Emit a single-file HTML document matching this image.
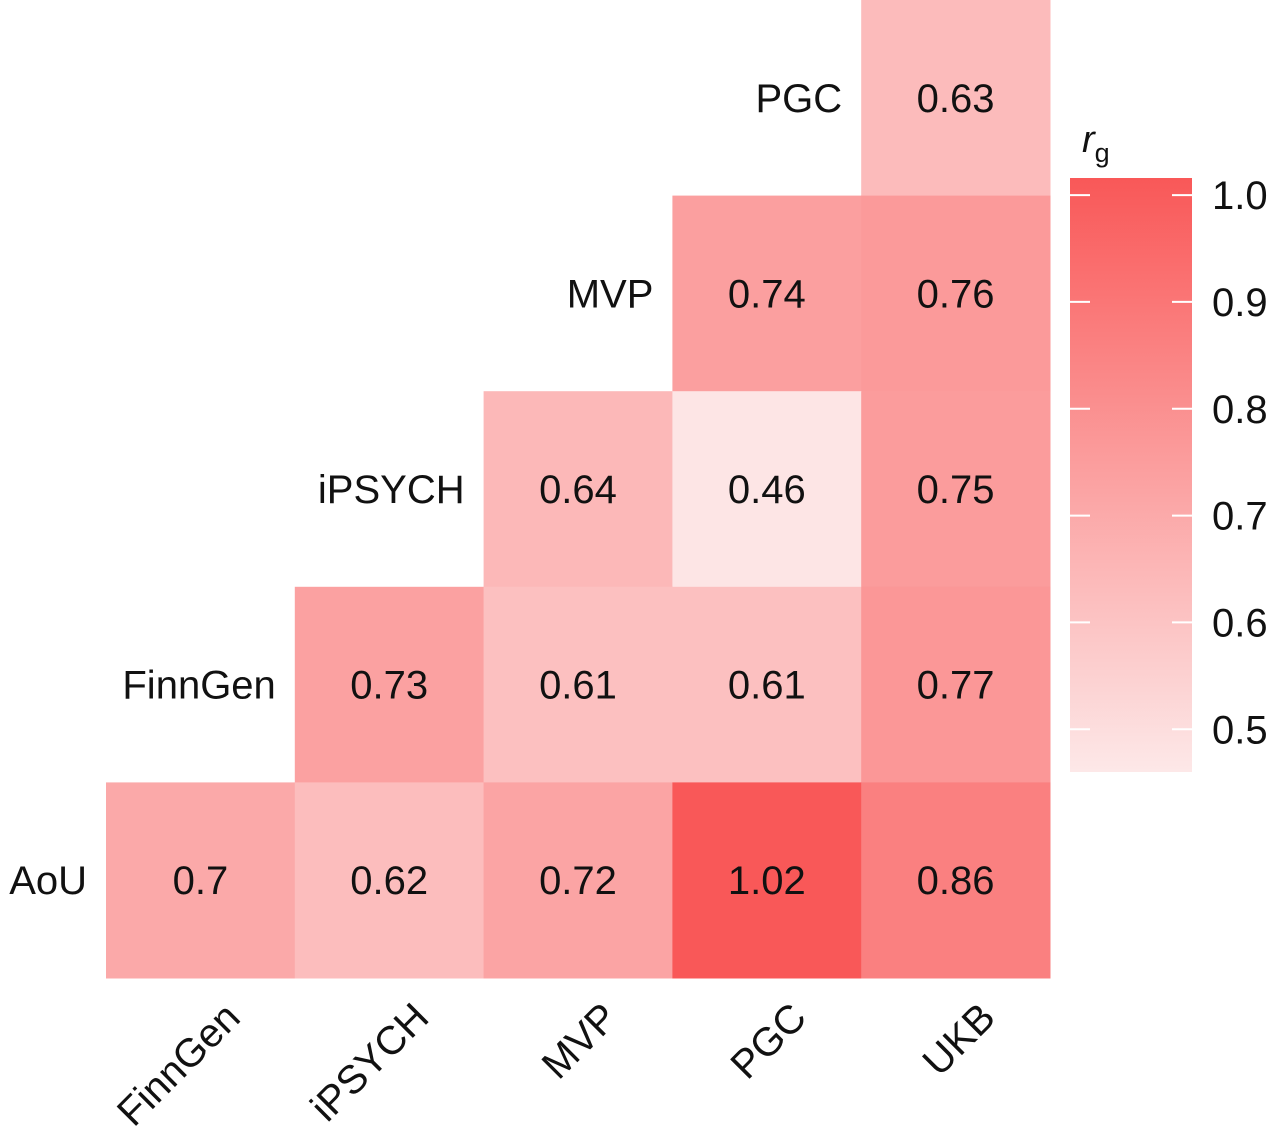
<!DOCTYPE html>
<html><head><meta charset="utf-8"><style>
body{margin:0;background:#fff;width:1280px;height:1136px;overflow:hidden}
text{font-family:"Liberation Sans",sans-serif;fill:#111}
</style></head><body>
<svg id="chart" width="1280" height="1136" viewBox="0 0 1280 1136" xmlns="http://www.w3.org/2000/svg">
<defs><linearGradient id="cb" x1="0" y1="0" x2="0" y2="1"><stop offset="0" stop-color="#f95858"/><stop offset="1" stop-color="#fde8e8"/></linearGradient></defs>
<g id="cells"></g><g id="labels"></g>
<g id="colorbar"></g>
</svg>
<script>
const cols=["FinnGen","iPSYCH","MVP","PGC","UKB"];
const rows=["PGC","MVP","iPSYCH","FinnGen","AoU"];
const values=[
 [null,null,null,null,0.63],
 [null,null,null,0.74,0.76],
 [null,null,0.64,0.46,0.75],
 [null,0.73,0.61,0.61,0.77],
 [0.7,0.62,0.72,1.02,0.86]];
const labels=[
 [null,null,null,null,"0.63"],
 [null,null,null,"0.74","0.76"],
 [null,null,"0.64","0.46","0.75"],
 [null,"0.73","0.61","0.61","0.77"],
 ["0.7","0.62","0.72","1.02","0.86"]];
const cbTicks=[1.0,0.9,0.8,0.7,0.6,0.5];
const NS="http://www.w3.org/2000/svg";
const x0=106,cw=188.8,y0=0,ch=195.6;
const xs=i=>x0+i*cw, ys=j=>y0+j*ch;
const vmin=0.45,vmax=1.02;
function color(v){let t=Math.max(0,Math.min(1,(v-vmin)/(vmax-vmin)));
 const a=[253,232,232],b=[249,88,88];
 return `rgb(${a.map((c,k)=>Math.round(c+(b[k]-c)*t)).join(",")})`;}
function el(tag,attrs,parent){const e=document.createElementNS(NS,tag);for(const k in attrs)e.setAttribute(k,attrs[k]);parent.appendChild(e);return e;}
const gc=document.getElementById('cells'),gl=document.getElementById('labels');
values.forEach((row,j)=>row.forEach((v,i)=>{
 if(v===null)return;
 const r=el('rect',{x:xs(i),y:ys(j),width:cw+0.5,height:ch+0.5,fill:color(v)},gc);
 
 
 const t=el('text',{x:xs(i)+cw/2,y:ys(j)+ch/2+14,'text-anchor':'middle','font-size':40},gc);
 t.textContent=labels[j][i];
 
 
}));
rows.forEach((r,j)=>{
 const first=values[j].findIndex(v=>v!==null);
 const t=el('text',{x:xs(first)-19,y:ys(j)+ch/2+14,'text-anchor':'end','font-size':40},gl);
 t.textContent=r;
 
 
});
cols.forEach((c,i)=>{
 const cx=xs(i)+cw/2+22,cy=1000;
 const t=el('text',{x:cx,y:cy,'text-anchor':'end','font-size':40,transform:`rotate(-45 ${cx} ${cy})`,dy:28},gl);
 t.textContent=c;
 
 
});
const cb=document.getElementById('colorbar');
const cbx=1070,cbw=122,cbTop=178,cbBot=772,cbVTop=1.016,cbVBot=0.46;
const cy=v=>cbTop+(cbVTop-v)/(cbVTop-cbVBot)*(cbBot-cbTop);
const bar=el('rect',{x:cbx,y:cbTop,width:cbw,height:cbBot-cbTop,fill:'url(#cb)'},cb);


cbTicks.forEach(v=>{
 const y=cy(v);
 el('line',{x1:cbx,x2:cbx+20,y1:y,y2:y,stroke:'#fff','stroke-width':2},cb);
 el('line',{x1:cbx+cbw-20,x2:cbx+cbw,y1:y,y2:y,stroke:'#fff','stroke-width':2},cb);
 const t=el('text',{x:1212,y:y+14,'font-size':40},cb);
 t.textContent=v.toFixed(1);
 
 
});
const tt=el('text',{x:1082,y:152,'font-size':38},cb);
tt.innerHTML='<tspan font-style="italic">r</tspan><tspan font-size="27" dy="10">g</tspan>';


</script>
</body></html>
